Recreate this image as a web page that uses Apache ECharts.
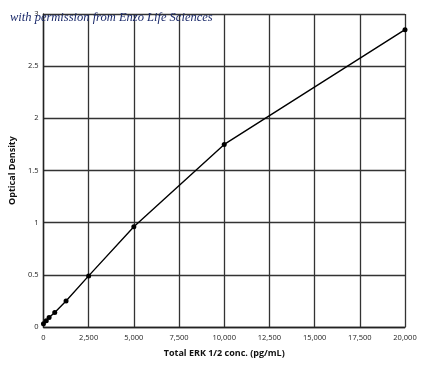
<!DOCTYPE html>
<html><head><meta charset="utf-8">
<script src="https://cdn.jsdelivr.net/npm/echarts@6/dist/echarts.min.js"></script>
<style>html,body{margin:0;padding:0;background:#fff}#c{width:425px;height:369px}</style>
</head><body><div id="c"></div>
<script>
const concentrations = [0, 156, 312, 625, 1250, 2500, 5000, 10000, 20000];
const opticalDensity = [0.03, 0.06, 0.09, 0.14, 0.25, 0.49, 0.96, 1.75, 2.85];
const xTicks = [0, 2500, 5000, 7500, 10000, 12500, 15000, 17500, 20000];
const yTicks = [0, 0.5, 1, 1.5, 2, 2.5, 3];
const chart = echarts.init(document.getElementById('c'));
chart.setOption({
  animation: false,
  backgroundColor: '#fff',
  grid: {left: 42, right: 20, top: 14, bottom: 42},
  graphic: [{
    type: 'text', left: 10, top: 11, z: 100,
    style: {text: 'with permission from Enzo Life Sciences', font: 'italic 12.5px "Liberation Serif", "DejaVu Serif", serif', fill: '#1b2a6b', backgroundColor: 'rgba(255,255,255,0)'}
  }],
  xAxis: {
    type: 'value', min: 0, max: 20000, interval: 2500,
    name: 'Total ERK 1/2 conc. (pg/mL)', nameLocation: 'middle', nameGap: 22,
    nameTextStyle: {fontFamily: 'Open Sans', fontWeight: 'bold', fontSize: 9, color: '#111'},
    axisLine: {show: true, lineStyle: {color: '#222', width: 1.4}},
    axisTick: {show: false},
    axisLabel: {fontFamily: 'Open Sans', fontSize: 7.5, color: '#222', margin: 7,
      formatter: v => v === 0 ? '0' : v.toLocaleString('en-US')},
    splitLine: {show: true, lineStyle: {color: '#333', width: 1.3}}
  },
  yAxis: {
    type: 'value', min: 0, max: 3, interval: 0.5,
    name: 'Optical Density', nameLocation: 'middle', nameGap: 20,
    nameTextStyle: {fontFamily: 'Open Sans', fontWeight: 'bold', fontSize: 9, color: '#111'},
    axisLine: {show: true, lineStyle: {color: '#222', width: 1.4}},
    axisTick: {show: false},
    axisLabel: {fontFamily: 'Open Sans', fontSize: 7.5, color: '#222', margin: 5},
    splitLine: {show: true, lineStyle: {color: '#333', width: 1.3}}
  },
  series: [{
    type: 'line',
    data: concentrations.map((c, i) => [c, opticalDensity[i]]),
    symbol: 'circle', symbolSize: 5,
    lineStyle: {color: '#000', width: 1.4},
    itemStyle: {color: '#000'}
  }]
});
</script></body></html>
